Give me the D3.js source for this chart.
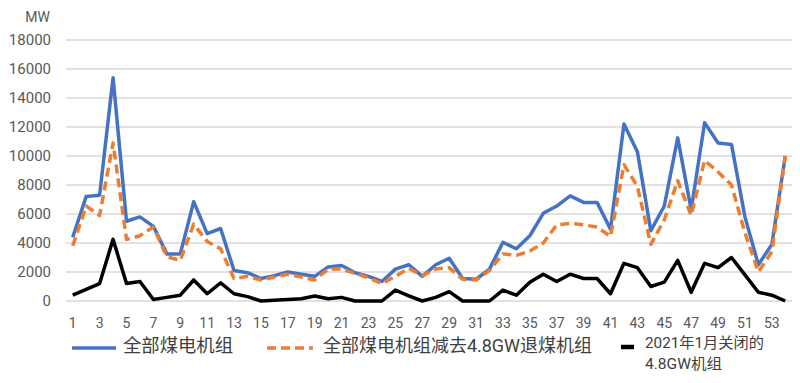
<!DOCTYPE html>
<html>
<head>
<meta charset="utf-8">
<script src="https://cdn.jsdelivr.net/npm/d3@7"></script>
<style>
  body { margin: 0; background: #fff; }
  text { font-family: Roboto, "Noto Sans CJK SC", sans-serif; }
</style>
</head>
<body>
<div id="chart"></div>
<script>
var weeks = d3.range(1, 55);

var allUnits = [4400, 7200, 7300, 15400, 5500, 5800, 5150, 3250, 3250, 6850,
  4650, 5000, 2100, 1950, 1550, 1750, 2000, 1850, 1700, 2350,
  2450, 1950, 1700, 1350, 2200, 2500, 1700, 2500, 2950, 1550,
  1500, 2200, 4050, 3600, 4500, 6050, 6550, 7250, 6800, 6800,
  4950, 12200, 10300, 4850, 6550, 11250, 6300, 12300, 10900, 10800,
  5800, 2500, 3900, 10000];

var minusRetired = [3800, 6550, 5900, 10900, 4250, 4500, 5100, 3050, 2800, 5300,
  4100, 3600, 1550, 1700, 1450, 1650, 1850, 1650, 1450, 2200,
  2200, 1900, 1600, 1200, 1700, 2250, 1750, 2200, 2300, 1500,
  1450, 2100, 3250, 3150, 3450, 4000, 5250, 5350, 5250, 5100,
  4450, 9400, 7900, 3900, 5600, 8300, 5900, 9700, 8900, 8000,
  4700, 2000, 3400, 10000];

var retired = [400, 800, 1200, 4250, 1200, 1350, 100, 250, 400, 1450,
  500, 1250, 500, 300, 0, 50, 100, 150, 350, 150,
  250, 0, 0, 0, 750, 350, 0, 250, 650, 0,
  0, 0, 750, 400, 1300, 1850, 1350, 1850, 1550, 1550,
  500, 2600, 2300, 1000, 1300, 2800, 600, 2600, 2300, 3000,
  1800, 600, 400, 0];

var yTicks = [0, 2000, 4000, 6000, 8000, 10000, 12000, 14000, 16000, 18000];
var xLabels = weeks.filter(function(d) { return d % 2 == 1; });

var seriesNames = ["全部煤电机组", "全部煤电机组减去4.8GW退煤机组", "2021年1月关闭的", "4.8GW机组"];

var width = 800, height = 383;
var margin = {top: 40, left: 66, right: 8, bottom: 82};

var svg = d3.select("#chart").append("svg")
    .attr("width", width)
    .attr("height", height);

var x = d3.scaleBand()
    .domain(weeks)
    .range([margin.left, width - margin.right]);

var y = d3.scaleLinear()
    .domain([0, 18000])
    .range([height - margin.bottom, margin.top]);

function cx(d) { return x(d) + x.bandwidth() / 2; }

// grid
svg.append("g")
  .selectAll("line")
  .data(yTicks)
  .enter().append("line")
    .attr("x1", margin.left)
    .attr("x2", width - margin.right)
    .attr("y1", function(d) { return y(d); })
    .attr("y2", function(d) { return y(d); })
    .attr("stroke", "#d9d9d9")
    .attr("stroke-width", 1.5);

// y labels
svg.append("g")
  .selectAll("text")
  .data(yTicks)
  .enter().append("text")
    .attr("x", 51)
    .attr("y", function(d) { return y(d); })
    .attr("dy", "0.36em")
    .attr("text-anchor", "end")
    .attr("font-size", 15)
    .attr("fill", "#595959")
    .text(function(d) { return d; });

svg.append("text")
    .attr("x", 50)
    .attr("y", 17)
    .attr("dy", "0.36em")
    .attr("text-anchor", "end")
    .attr("font-size", 14)
    .attr("fill", "#595959")
    .text("MW");

// x labels
svg.append("g")
  .selectAll("text")
  .data(xLabels)
  .enter().append("text")
    .attr("x", function(d) { return cx(d); })
    .attr("y", 323)
    .attr("dy", "0.36em")
    .attr("text-anchor", "middle")
    .attr("font-size", 14)
    .attr("fill", "#595959")
    .text(function(d) { return d; });

var line = d3.line()
    .x(function(d, i) { return cx(weeks[i]); })
    .y(function(d) { return y(d); });

svg.append("path")
    .attr("d", line(allUnits))
    .attr("fill", "none")
    .attr("stroke", "#4472c4")
    .attr("stroke-width", 3.5)
    .attr("stroke-linejoin", "round");

svg.append("path")
    .attr("d", line(minusRetired))
    .attr("fill", "none")
    .attr("stroke", "#ed7d31")
    .attr("stroke-width", 3.5)
    .attr("stroke-dasharray", "9,5")
    .attr("stroke-linejoin", "round");

svg.append("path")
    .attr("d", line(retired))
    .attr("fill", "none")
    .attr("stroke", "#000")
    .attr("stroke-width", 3.5)
    .attr("stroke-linejoin", "round");

// legend
var lg = svg.append("g");
lg.append("line")
    .attr("x1", 72).attr("x2", 116).attr("y1", 348).attr("y2", 348)
    .attr("stroke", "#4472c4").attr("stroke-width", 3.5);
lg.append("text")
    .attr("x", 123).attr("y", 346).attr("dy", "0.36em")
    .attr("font-size", 18).attr("fill", "#404040")
    .attr("textLength", 110).attr("lengthAdjust", "spacingAndGlyphs")
    .text(seriesNames[0]);

lg.append("line")
    .attr("x1", 267).attr("x2", 313).attr("y1", 348).attr("y2", 348)
    .attr("stroke", "#ed7d31").attr("stroke-width", 3.5)
    .attr("stroke-dasharray", "9,5");
lg.append("text")
    .attr("x", 323).attr("y", 346).attr("dy", "0.36em")
    .attr("font-size", 18).attr("fill", "#404040")
    .attr("textLength", 269).attr("lengthAdjust", "spacingAndGlyphs")
    .text(seriesNames[1]);

lg.append("line")
    .attr("x1", 621).attr("x2", 634).attr("y1", 347).attr("y2", 347)
    .attr("stroke", "#000").attr("stroke-width", 4.5);
lg.append("text")
    .attr("x", 645).attr("y", 343).attr("dy", "0.36em")
    .attr("font-size", 15).attr("fill", "#404040")
    .attr("textLength", 119).attr("lengthAdjust", "spacingAndGlyphs")
    .text(seriesNames[2]);
lg.append("text")
    .attr("x", 645).attr("y", 364).attr("dy", "0.36em")
    .attr("font-size", 15).attr("fill", "#404040")
    .attr("textLength", 77).attr("lengthAdjust", "spacingAndGlyphs")
    .text(seriesNames[3]);
</script>
</body>
</html>
